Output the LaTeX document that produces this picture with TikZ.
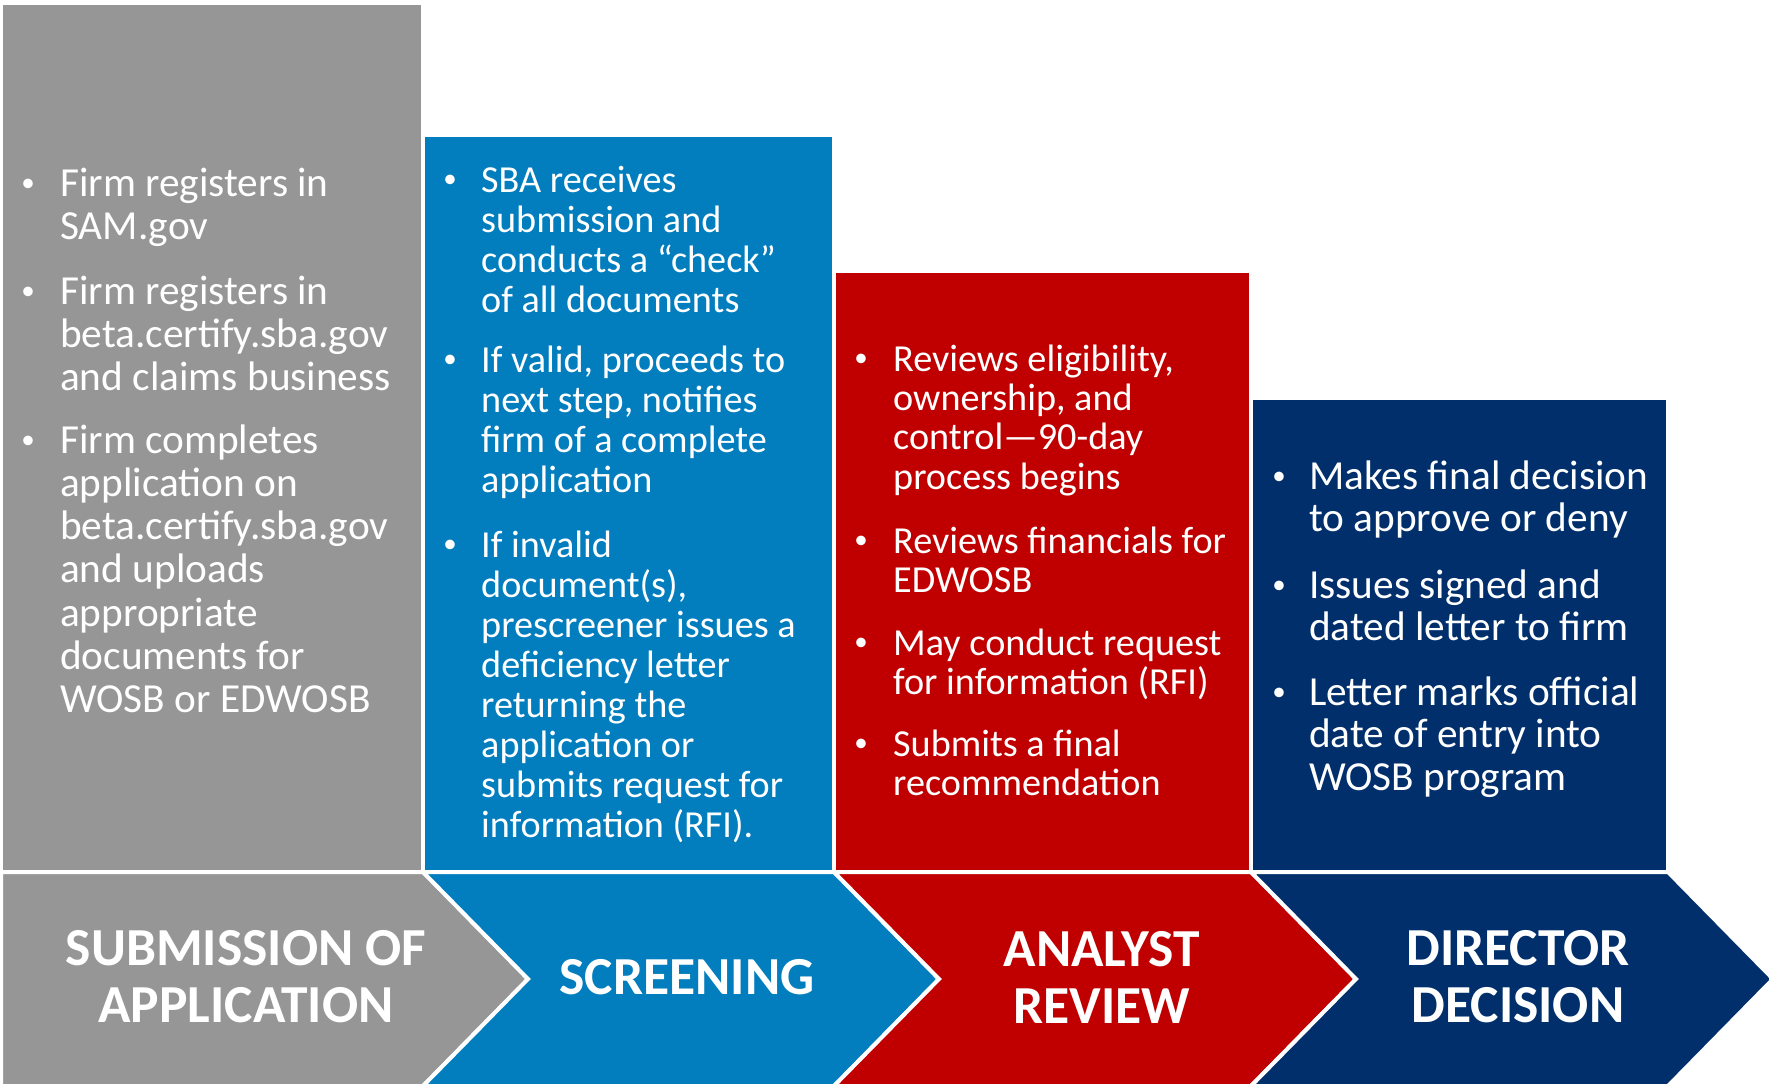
\documentclass[tikz,border=0pt]{standalone}
\usepackage{fontspec}
\setmainfont{Carlito}
\usepackage{tikz}
\usetikzlibrary{positioning}
\definecolor{color0}{RGB}{150,150,150}
\definecolor{color2}{RGB}{2,126,190}
\definecolor{color4}{RGB}{192,0,0}
\definecolor{color6}{RGB}{0,47,108}
\tikzstyle{column}=[draw=white, line width=4pt, line join=miter]
\tikzstyle{item line}=[anchor=base west, inner sep=0pt, text=white]
\tikzstyle{item bullet}=[anchor=base, inner sep=0pt, text=white, yshift=5pt, font=\fontsize{27}{30}\selectfont]
\tikzstyle{big item}=[font=\fontsize{41.3}{43}\selectfont]
\tikzstyle{small item}=[font=\fontsize{38.2}{40}\selectfont]
\tikzstyle{stage}=[align=center, inner sep=0pt, text=white, font=\fontsize{53.5}{57}\selectfont\bfseries]

\begin{document}
\begin{tikzpicture}[x=1pt,y=-1pt]
\def\pitchA{43.3}
\def\pitchB{40}
\def\pitchC{39.4}
\def\pitchD{42.5}
\def\tip{105}

\useasboundingbox (0,0) rectangle (1769,1084);

	% Upper columns
	\path[column, fill=color0] (1,3) rectangle (423,872);
	\path[column, fill=color2] (423,135) rectangle (834,872);
	\path[column, fill=color4] (834,271) rectangle (1251,872);
	\path[column, fill=color6] (1251,398) rectangle (1668,872);

	% Chevrons
	\path[column, fill=color0] (1,872) -- (423,872) -- (423+\tip,979) -- (423,1086) -- (1,1086) -- cycle;
	\path[column, fill=color2] (423,872) -- (834,872) -- (834+\tip,979) -- (834,1086) -- (423,1086) -- (423+\tip,979) -- cycle;
	\path[column, fill=color4] (834,872) -- (1251,872) -- (1251+\tip,979) -- (1251,1086) -- (834,1086) -- (834+\tip,979) -- cycle;
	\path[column, fill=color6] (1251,872) -- (1668,872) -- (1668+\tip,979) -- (1668,1086) -- (1251,1086) -- (1251+\tip,979) -- cycle;

	\node[stage] (S-1) at (246,977) {SUBMISSION OF\\APPLICATION};
	\node[stage] (S-2) at (687,977) {SCREENING};
	\node[stage] (S-3) at (1102,977) {ANALYST\\REVIEW};
	\node[stage] (S-4) at (1518,977) {DIRECTOR\\DECISION};

	% Submission
	\foreach \y in {196,304,453}
		\node[item bullet] (G-b\y) at (28,\y) {\textbullet};
	\foreach \txt [count=\i] in {Firm registers in, SAM.gov}
		\node[item line, big item] (G1-\i) at (60,196+\i*\pitchA-\pitchA) {\txt};
	\foreach \txt [count=\i] in {Firm registers in, beta.certify.sba.gov, and claims business}
		\node[item line, big item] (G2-\i) at (60,304+\i*\pitchA-\pitchA) {\txt};
	\foreach \txt [count=\i] in {Firm completes, application on, beta.certify.sba.gov, and uploads, appropriate, documents for, WOSB or EDWOSB}
		\node[item line, big item] (G3-\i) at (60,453+\i*\pitchA-\pitchA) {\txt};

	% Screening
	\foreach \y in {192,372,557}
		\node[item bullet] (B-b\y) at (450,\y) {\textbullet};
	\foreach \txt [count=\i] in {SBA receives, submission and, conducts a “check”, of all documents}
		\node[item line, small item] (B1-\i) at (481,192+\i*\pitchB-\pitchB) {\txt};
	\foreach \txt [count=\i] in {{If valid, proceeds to}, {next step, notifies}, firm of a complete, application}
		\node[item line, small item] (B2-\i) at (481,372+\i*\pitchB-\pitchB) {\txt};
	\foreach \txt [count=\i] in {If invalid, {document(s),}, prescreener issues a, deficiency letter, returning the, application or, submits request for, information (RFI).}
		\node[item line, small item] (B3-\i) at (481,557+\i*\pitchB-\pitchB) {\txt};

	% Analyst review
	\foreach \y in {371,553,655,756}
		\node[item bullet] (R-b\y) at (861,\y) {\textbullet};
	\foreach \txt [count=\i] in {{Reviews eligibility,}, {ownership, and}, control—90-day, process begins}
		\node[item line, small item] (R1-\i) at (893,371+\i*\pitchC-\pitchC) {\txt};
	\foreach \txt [count=\i] in {Reviews financials for, EDWOSB}
		\node[item line, small item] (R2-\i) at (893,553+\i*\pitchC-\pitchC) {\txt};
	\foreach \txt [count=\i] in {May conduct request, for information (RFI)}
		\node[item line, small item] (R3-\i) at (893,655+\i*\pitchC-\pitchC) {\txt};
	\foreach \txt [count=\i] in {Submits a final, recommendation}
		\node[item line, small item] (R4-\i) at (893,756+\i*\pitchC-\pitchC) {\txt};

	% Director decision
	\foreach \y in {489,598,705}
		\node[item bullet] (D-b\y) at (1279,\y) {\textbullet};
	\foreach \txt [count=\i] in {Makes final decision, to approve or deny}
		\node[item line, big item] (D1-\i) at (1309,489+\i*\pitchD-\pitchD) {\txt};
	\foreach \txt [count=\i] in {Issues signed and, dated letter to firm}
		\node[item line, big item] (D2-\i) at (1309,598+\i*\pitchD-\pitchD) {\txt};
	\foreach \txt [count=\i] in {Letter marks official, date of entry into, WOSB program}
		\node[item line, big item] (D3-\i) at (1309,705+\i*\pitchD-\pitchD) {\txt};

\end{tikzpicture}
\end{document}
